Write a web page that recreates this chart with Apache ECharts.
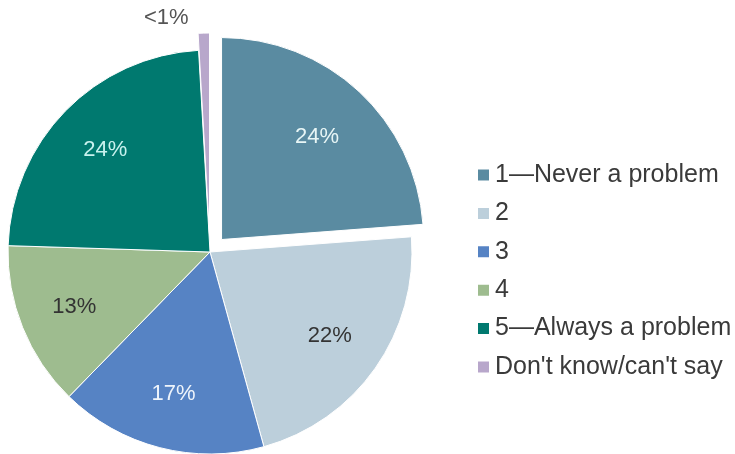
<!DOCTYPE html>
<html>
<head>
<meta charset="utf-8">
<script src="https://cdn.jsdelivr.net/npm/echarts@6/dist/echarts.min.js"></script>
<style>
  html, body { margin: 0; padding: 0; background: #ffffff; }
  #chart { width: 735px; height: 454px; }
</style>
</head>
<body>
<div id="chart"></div>
<script>
// Survey answers, in drawing order (clockwise from 12 o'clock)
const categories = ['1—Never a problem', '2', '3', '4', '5—Always a problem', "Don't know/can't say"];
const shares = [23.8, 21.9, 16.6, 13.2, 23.6, 0.9];
const sliceColors = ['#5a8ba1', '#bccfdb', '#5683c4', '#9ebc8f', '#00796f', '#b8a7cb'];
const labelColors = ['#e8f6f6', '#333333', '#eef4fb', '#333333', '#c8f2ee', '#555555'];
const pulledOut = [true, false, false, false, false, true];

const CX = 210, CY = 252, R = 202;
const PULL = 17;               // distance a detached slice is moved out
const LABEL_PUSH = 0.21 * R;   // moves inner labels from mid-radius outwards
const PULLED_LABEL_PUSH = 11;  // extra push for the detached slice

function pctText(v) {
  return v < 1 ? '<1%' : Math.round(v) + '%';
}

const fontFamily = 'Liberation Sans, Arial, sans-serif';

// coloured slices
const sliceData = categories.map((name, i) => ({
  name: name,
  value: shares[i],
  selected: pulledOut[i],
  itemStyle: { color: sliceColors[i] }
}));

// same slices again, transparent, only carrying the percentage captions
const captionData = categories.map((name, i) => ({
  name: name,
  value: shares[i],
  itemStyle: { color: 'rgba(0,0,0,0)', borderWidth: 0 },
  label: {
    color: labelColors[i],
    position: shares[i] < 1 ? 'outside' : 'inner'
  },
  labelLine: { show: false }
}));

const chart = echarts.init(document.getElementById('chart'), null, { renderer: 'canvas' });

chart.setOption({
  animation: false,
  backgroundColor: '#ffffff',
  legend: {
    orient: 'vertical',
    left: 471,
    top: 157,
    itemWidth: 13,
    itemHeight: 13,
    itemGap: 12.4,
    icon: 'rect',
    selectedMode: false,
    data: categories,
    textStyle: {
      fontFamily: fontFamily,
      fontSize: 25,
      lineHeight: 26,
      color: '#3a3a3a'
    }
  },
  series: [{
    type: 'pie',
    name: 'slices',
    center: [CX, CY],
    radius: [0, R],
    startAngle: 90,
    clockwise: true,
    selectedMode: 'multiple',
    selectedOffset: PULL,
    emphasis: { disabled: true },
    select: { itemStyle: { borderColor: '#ffffff', borderWidth: 1 } },
    itemStyle: { borderColor: '#ffffff', borderWidth: 1 },
    label: { show: false },
    labelLine: { show: false },
    data: sliceData
  }, {
    type: 'pie',
    name: 'captions',
    silent: true,
    legendHoverLink: false,
    center: [CX, CY],
    radius: [0, R],
    startAngle: 90,
    clockwise: true,
    avoidLabelOverlap: false,
    emphasis: { disabled: true },
    z: 5,
    label: {
      show: true,
      fontFamily: fontFamily,
      fontSize: 22,
      formatter: p => pctText(p.value)
    },
    labelLayout: function (p) {
      if (shares[p.dataIndex] < 1) {
        // small slice: caption sits above and to the left of its tip
        return {
          x: p.rect.x - 10,
          y: p.rect.y - 32,
          align: 'right',
          verticalAlign: 'middle'
        };
      }
      const lx = p.labelRect.x + p.labelRect.width / 2;
      const ly = p.labelRect.y + p.labelRect.height / 2;
      const dx = lx - CX, dy = ly - CY;
      const d = Math.hypot(dx, dy) || 1;
      const push = LABEL_PUSH + (pulledOut[p.dataIndex] ? PULLED_LABEL_PUSH : 0);
      return {
        x: lx + dx / d * push,
        y: ly + dy / d * push,
        align: 'center',
        verticalAlign: 'middle'
      };
    },
    data: captionData
  }]
});
</script>
</body>
</html>
